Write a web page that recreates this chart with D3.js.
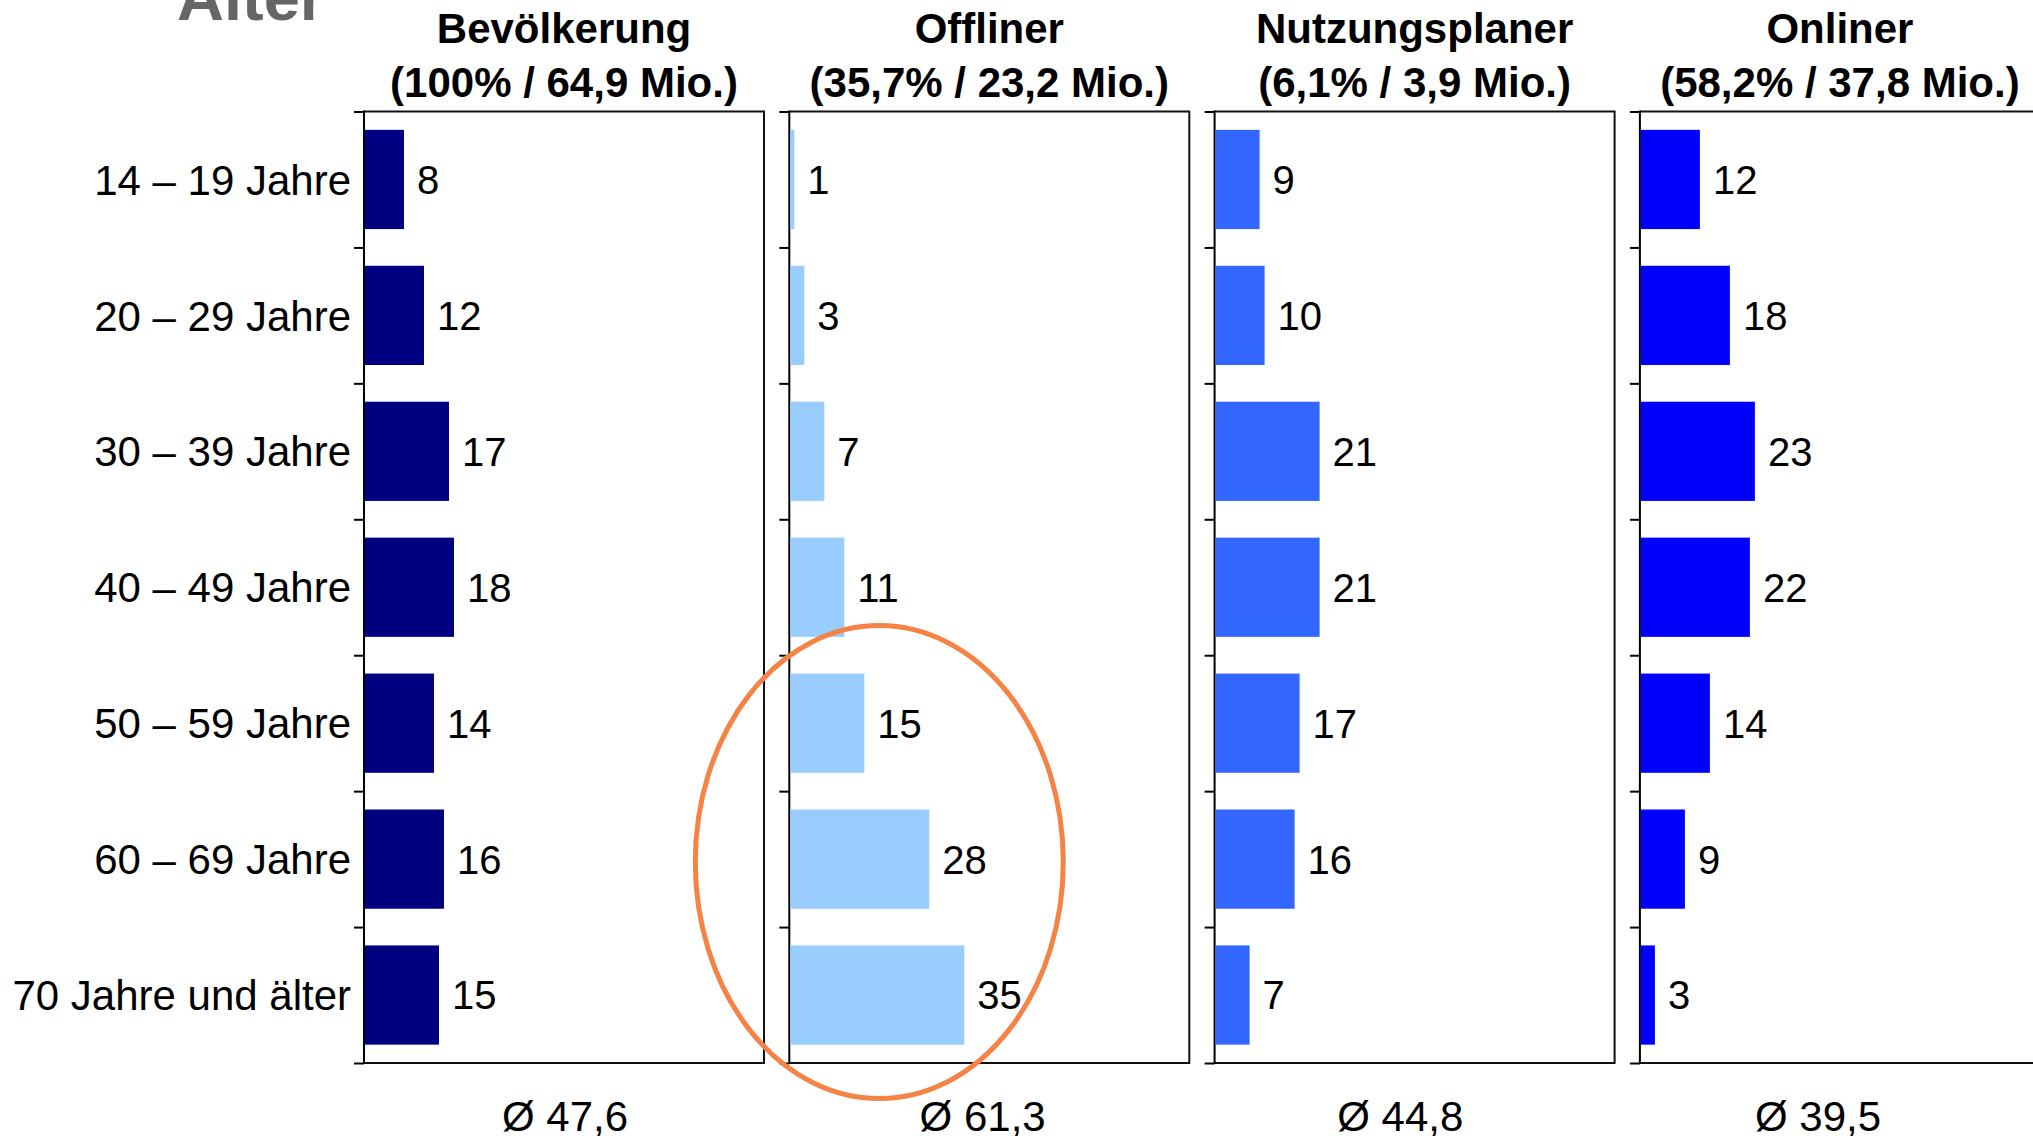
<!DOCTYPE html>
<html>
<head>
<meta charset="utf-8">
<script src="https://cdn.jsdelivr.net/npm/d3@7"></script>
<style>
  body { margin: 0; background: #fff; }
  svg { display: block; font-family: "Liberation Sans", Arial, sans-serif; }
  .edge-axis path { display: none; }
  .edge-axis .tick line { stroke: #000; stroke-width: 2px; }
  .frame { fill: none; stroke: #111; stroke-width: 2px; }
  .axis-line { stroke: #000; stroke-width: 2px; }
  .cat { font-size: 42px; fill: #000; }
  .val { font-size: 40px; fill: #000; }
  .head { font-size: 42px; font-weight: bold; fill: #000; }
  .avg { font-size: 42px; fill: #000; }
</style>
</head>
<body>
<svg id="chart" width="2033" height="1136"></svg>
<script>
const categories = ["14 – 19 Jahre", "20 – 29 Jahre", "30 – 39 Jahre", "40 – 49 Jahre", "50 – 59 Jahre", "60 – 69 Jahre", "70 Jahre und älter"];
const groups = ["Bevölkerung", "Offliner", "Nutzungsplaner", "Onliner"];
const groupShares = ["(100% / 64,9 Mio.)", "(35,7% / 23,2 Mio.)", "(6,1% / 3,9 Mio.)", "(58,2% / 37,8 Mio.)"];
const bevoelkerung = [8, 12, 17, 18, 14, 16, 15];
const offliner = [1, 3, 7, 11, 15, 28, 35];
const nutzungsplaner = [9, 10, 21, 21, 17, 16, 7];
const onliner = [12, 18, 23, 22, 14, 9, 3];
const averages = ["Ø 47,6", "Ø 61,3", "Ø 44,8", "Ø 39,5"];
const colors = ["#000080", "#99CCFF", "#3366FF", "#0000FF"];

const series = [bevoelkerung, offliner, nutzungsplaner, onliner];

const plotTop = 111.5, plotBottom = 1063;
const panelWidth = 400, panelStep = 425.3, firstPanel = 364;

const svg = d3.select("#chart");

// title cut off at the top of the slide
svg.append("text")
  .attr("x", 177).attr("y", 20)
  .attr("font-size", 65).attr("font-weight", "bold")
  .attr("fill", "#666").text("Alter");

const panelX = d3.scaleBand().domain(groups).range([firstPanel, firstPanel + panelStep * 4]);
const y = d3.scaleBand().domain(categories).range([plotTop, plotBottom]).paddingInner(0.27).paddingOuter(0.135);
const yEdge = d3.scaleLinear().domain([0, categories.length]).range([plotTop, plotBottom]);
const x = d3.scaleLinear().domain([0, 80]).range([0, panelWidth]);
// the averages sit a little tighter than the panels
const avgX = d3.scalePoint().domain(groups).range([565, 1818]);

groups.forEach((g, gi) => {
  const px = panelX(g);
  const panel = svg.append("g").attr("transform", `translate(${px},0)`);

  // frame: top, right, bottom
  panel.append("path").attr("class", "frame")
    .attr("d", `M0,${plotTop}H${panelWidth}V${plotBottom}H0`);

  const axis = d3.axisLeft(yEdge).tickValues(d3.range(categories.length + 1)).tickSize(10).tickFormat("");
  panel.append("g").attr("class", "edge-axis").call(axis);
  panel.append("line").attr("class", "axis-line")
    .attr("x1", 0).attr("x2", 0).attr("y1", plotTop - 1).attr("y2", plotBottom + 1);

  const data = series[gi].map((v, i) => ({ cat: categories[i], v }));

  panel.selectAll("rect.bar")
    .data(data)
    .join("rect")
    .attr("class", "bar")
    .attr("x", 1)
    .attr("y", (d) => y(d.cat))
    .attr("width", (d) => x(d.v) - 1)
    .attr("height", y.bandwidth())
    .attr("fill", colors[gi]);

  panel.selectAll("text.val")
    .data(data)
    .join("text")
    .attr("class", "val")
    .attr("x", (d) => x(d.v) + 13)
    .attr("y", (d) => y(d.cat) + y.bandwidth() / 2)
    .attr("dy", "0.36em")
    .text((d) => d.v);

  panel.append("text").attr("class", "head")
    .attr("x", panelWidth / 2).attr("y", 43).attr("text-anchor", "middle").text(g);
  panel.append("text").attr("class", "head")
    .attr("x", panelWidth / 2).attr("y", 97).attr("text-anchor", "middle").text(groupShares[gi]);

  svg.append("text").attr("class", "avg")
    .attr("x", avgX(g)).attr("y", 1131).attr("text-anchor", "middle").text(averages[gi]);
});

svg.selectAll("text.cat")
  .data(categories)
  .join("text")
  .attr("class", "cat")
  .attr("x", firstPanel - 13)
  .attr("y", (d) => y(d) + y.bandwidth() / 2)
  .attr("dy", "0.36em")
  .attr("text-anchor", "end")
  .text((d) => d);

// highlight around the older offliners
const hx = panelX("Offliner");
svg.append("ellipse")
  .attr("cx", hx + x(18))
  .attr("cy", y("60 – 69 Jahre") + y.bandwidth() / 2 + 3)
  .attr("rx", x(36.8))
  .attr("ry", yEdge(1.74) - plotTop)
  .attr("fill", "none")
  .attr("stroke", "#F58345")
  .attr("stroke-width", 5);
</script>
</body>
</html>
